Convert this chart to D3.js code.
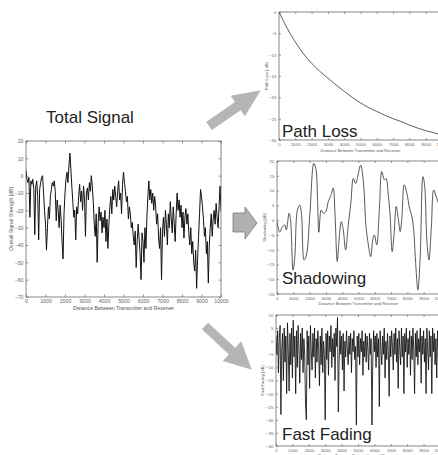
<!DOCTYPE html>
<html lang="en">
<head>
<meta charset="UTF-8">
<title>Total Signal Components</title>
<script src="https://d3js.org/d3.v7.min.js"></script>
<style>
  body { margin: 0; background: #fff; font-family: Arial, "Liberation Sans", sans-serif; }
  svg { display: block; }
  .axis line { stroke: #555; stroke-width: 0.6; }
  .axis path { display: none; }
  .axis text { fill: #666; }
  .frame { fill: none; stroke: #555; stroke-width: 0.7; }
  .big { font-size: 17px; fill: #222; }
  .arrow { fill: #b5b5b5; }
</style>
</head>
<body>
<div id="chart"></div>
<script>
// samples are every 50 m, 0..10000
const distStep = 50;

const totalSignal = [
  3, -2, -4, -1, -24, -3, -5, -2, -8, -34,
  -6, -3, -12, -37, -8, -4, -1, 0, -10, -20,
  -28, -43, -30, -18, -25, -12, -8, -4, -6, -3,
  -9, -26, -14, -20, -30, -17, -25, -38, -48, -22,
  -10, -2, 2, -4, 5, 13, 4, -6, -15, -24,
  -20, -37, -18, -22, -12, -5, -15, -9, -20, -6,
  -13, -35, -10, -7, -14, -4, -9, 0, -6, -15,
  -28, -35, -22, -50, -27, -18, -26, -21, -33, -24,
  -30, -20, -38, -25, -42, -28, -18, -12, -22, -8,
  -14, -6, -12, -18, -9, -3, -14, -10, -22, -5,
  2, -4, -9, -15, -12, -25, -18, -22, -30, -27,
  -35, -40, -32, -53, -38, -28, -36, -45, -60, -33,
  -38, -50, -30, -42, -24, -12, -3, -14, -8, -16,
  -10, -20, -12, -18, -28, -22, -36, -42, -30, -60,
  -32, -24, -35, -20, -28, -40, -22, -30, -15, -25,
  -33, -18, -27, -38, -22, -10, -20, -14, -24, -17,
  -30, -21, -36, -24, -19, -28, -22, -33, -40, -30,
  -45, -38, -50, -55, -43, -65, -48, -35, -22, -8,
  -12, -18, -25, -35, -30, -45, -38, -62, -40, -30,
  -22, -35, -25, -20, -28, -16, -24, -30, -18, -6,
  -20
];

const fastFading = [
  2, -5, 4, -12, 1, 6, -28, -3, 3, -15,
  5, -8, 2, -20, 7, -4, -19, 3, -9, 5,
  -14, 8, -6, 2, -20, 4, -10, 6, -3, -16,
  3, -7, 5, -12, 1, -5, -24, -30, 4, -9,
  2, -18, 6, -4, -11, 3, -6, 5, -14, 1,
  -8, 4, -3, -17, 2, -9, 5, -12, 0, -5,
  -30, 3, -7, 4, -13, 2, -4, 6, -10, 1,
  -6, 3, -15, 5, -2, 9, -27, -8, 4, -5,
  2, -11, 3, -19, 0, -6, 4, -3, -9, 2,
  -5, 3, -12, 1, -4, 4, -7, -2, -32, 2,
  -6, 3, -9, 1, -4, 4, -13, 0, -6, 3,
  -8, 2, -3, -11, 3, -5, 1, -32, -8, 4,
  -4, 2, -10, 3, -6, 1, -25, 4, -3, -9,
  2, -5, 5, -14, 0, -7, 3, -4, -21, 2,
  -6, 4, -2, -11, 3, -5, 5, -8, 1, -18,
  4, -3, -9, 5, -6, 2, -20, 3, -4, 5,
  -10, 1, -5, 4, -13, 2, -7, 5, -3, -20,
  3, -6, 4, -9, 1, -4, 5, -16, 2, -5,
  4, -8, 1, -20, 5, -3, -11, 4, -6, 2,
  -20, 5, -4, 3, -9, 1, -14, 4, -6, 2,
  -3
];

const shadowDist = [
  0, 164, 308, 472, 575, 739, 821, 986, 1088, 1253,
  1396, 1499, 1663, 1807, 2012, 2259, 2382, 2485, 2567, 2711,
  2834, 2998, 3142, 3306, 3450, 3552, 3696, 3799, 3943, 4066,
  4209, 4374, 4538, 4682, 4825, 4928, 5133, 5298, 5462, 5606,
  5750, 5873, 5975, 6119, 6283, 6427, 6591, 6694, 6817, 6940,
  7064, 7187, 7310, 7454, 7557, 7659, 7803, 7967, 8131, 8255,
  8378, 8500, 8645, 8789, 8953, 9055, 9199, 9322, 9466, 9610,
  9733, 9877, 10000
];
const shadowValues = [
  -0.5, -4.1, -2.5, -1.6, -3.3, 2.3, 0.6, -16.9, -12.9, 3.4,
  5.1, 2.3, -13.5, -11.8, 1.7, 19.2, 17.5, 7.4, -4.1, 3.4,
  2.3, 2.9, 6.2, 8.3, 10.8, 2.9, -14.0, -7.3, -0.5, -3.3,
  -10.1, -1.6, 6.2, 14.1, 12.4, 14.1, 18.6, 13.0, -2.2, -8.4,
  -12.4, -6.7, -5.0, -8.4, 4.0, 16.4, 13.6, 14.1, 9.1, 1.7,
  -10.7, -4.5, 4.6, 0.0, -3.9, 0.6, 11.9, 9.1, 4.0, 1.7,
  -2.8, -14.0, -23.6, -11.8, 14.7, 11.9, -7.3, -13.5, -2.8, 10.2,
  8.5, 6.2, 3.5
];

const pathLossDist = [
  0, 500, 1000, 1500, 2000, 2500, 3000, 3500, 4000, 4500, 5000,
  5500, 6000, 6500, 7000, 7500, 8000, 8500, 9000, 9500, 10000
];
const pathLossValues = [
  0, -3.8, -7.0, -9.8, -12.0, -13.9, -15.5, -17.1, -18.6, -20.0, -21.3,
  -22.4, -23.3, -24.2, -25.0, -25.7, -26.5, -27.2, -27.8, -28.3, -28.9
];

const xTicks = [0, 1000, 2000, 3000, 4000, 5000, 6000, 7000, 8000, 9000, 10000];
const totalTicks = [-70, -60, -50, -40, -30, -20, -10, 0, 10, 20];
const pathLossTicks = [-30, -25, -20, -15, -10, -5, 0];
const shadowTicks = [-25, -20, -15, -10, -5, 0, 5, 10, 15, 20];
const fadingTicks = [-40, -35, -30, -25, -20, -15, -10, -5, 0, 5, 10];
const xTitle = "Distance Between Transmitter and Receiver";

const W = 438, H = 455;
const svg = d3.select("#chart").append("svg")
  .attr("width", W).attr("height", H);

const defs = svg.append("defs");

function panel(cfg) {
  const x = d3.scaleLinear().domain([0, 10000]).range([cfg.x0, cfg.x1]);
  const y = d3.scaleLinear().domain([cfg.ticks[0], cfg.ticks[cfg.ticks.length - 1]])
    .range([cfg.y1, cfg.y0]);
  const g = svg.append("g");

  const clipId = "clip-" + cfg.name;
  defs.append("clipPath").attr("id", clipId)
    .append("rect")
    .attr("x", cfg.x0).attr("y", cfg.y0)
    .attr("width", cfg.x1 - cfg.x0).attr("height", cfg.y1 - cfg.y0);

  const line = d3.line().x(d => x(d[0])).y(d => y(d[1]));
  if (cfg.curve) line.curve(cfg.curve);

  g.append("path")
    .datum(cfg.data)
    .attr("clip-path", `url(#${clipId})`)
    .attr("fill", "none")
    .attr("stroke", cfg.color)
    .attr("stroke-width", cfg.width)
    .attr("stroke-linejoin", "round")
    .attr("d", line);

  // MATLAB-like box with inward ticks on all sides
  const t = cfg.tickLen;
  g.append("g").attr("class", "axis")
    .attr("transform", `translate(0,${cfg.y1})`)
    .call(d3.axisBottom(x).tickValues(xTicks).tickFormat(d3.format("d"))
      .tickSizeInner(-t).tickSizeOuter(0).tickPadding(cfg.pad))
    .selectAll("text").style("font-size", cfg.font + "px");
  g.append("g").attr("class", "axis")
    .attr("transform", `translate(0,${cfg.y0})`)
    .call(d3.axisTop(x).tickValues(xTicks).tickFormat("")
      .tickSizeInner(-t).tickSizeOuter(0));
  g.append("g").attr("class", "axis")
    .attr("transform", `translate(${cfg.x0},0)`)
    .call(d3.axisLeft(y).tickValues(cfg.ticks).tickFormat(d3.format("d"))
      .tickSizeInner(-t).tickSizeOuter(0).tickPadding(cfg.pad))
    .selectAll("text").style("font-size", cfg.font + "px");
  g.append("g").attr("class", "axis")
    .attr("transform", `translate(${cfg.x1},0)`)
    .call(d3.axisRight(y).tickValues(cfg.ticks).tickFormat("")
      .tickSizeInner(-t).tickSizeOuter(0));

  g.append("rect").attr("class", "frame")
    .attr("x", cfg.x0).attr("y", cfg.y0)
    .attr("width", cfg.x1 - cfg.x0).attr("height", cfg.y1 - cfg.y0);

  g.append("text")
    .attr("x", (cfg.x0 + cfg.x1) / 2)
    .attr("y", cfg.y1 + cfg.titleGap)
    .attr("text-anchor", "middle")
    .style("font-size", cfg.titleFont + "px")
    .style("fill", "#555")
    .text(xTitle);

  g.append("text")
    .attr("transform", `translate(${cfg.labelX},${(cfg.y0 + cfg.y1) / 2}) rotate(-90)`)
    .attr("text-anchor", "middle")
    .style("font-size", cfg.titleFont + "px")
    .style("fill", "#555")
    .text(cfg.yLabel);

  if (cfg.big) {
    g.append("text").attr("class", "big")
      .attr("x", cfg.big[1]).attr("y", cfg.big[2])
      .text(cfg.big[0]);
  }
}

const stepped = arr => arr.map((v, i) => [i * distStep, v]);

panel({
  name: "total", x0: 26, x1: 221, y0: 141, y1: 297,
  ticks: totalTicks, data: stepped(totalSignal),
  color: "#111", width: 1.0, tickLen: 2.5, pad: 2.5,
  font: 5.2, titleFont: 5.2, titleGap: 12.5,
  yLabel: "Overall Signal Strength [dB]", labelX: 13
});

panel({
  name: "pathloss", x0: 279, x1: 442, y0: 12, y1: 140,
  ticks: pathLossTicks, data: pathLossDist.map((d, i) => [d, pathLossValues[i]]),
  curve: d3.curveMonotoneX,
  color: "#333", width: 0.8, tickLen: 2, pad: 2.5,
  font: 4.4, titleFont: 4.1, titleGap: 12,
  yLabel: "Path Loss [-dB]", labelX: 268,
  big: ["Path Loss", 282, 137]
});

panel({
  name: "shadow", x0: 277, x1: 440, y0: 161, y1: 294,
  ticks: shadowTicks, data: shadowDist.map((d, i) => [d, shadowValues[i]]),
  curve: d3.curveCatmullRom,
  color: "#444", width: 0.9, tickLen: 2, pad: 2.5,
  font: 4.4, titleFont: 4.1, titleGap: 11,
  yLabel: "Shadowing [dB]", labelX: 266,
  big: ["Shadowing", 282, 284]
});

panel({
  name: "fading", x0: 276, x1: 440, y0: 315, y1: 446,
  ticks: fadingTicks, data: stepped(fastFading),
  color: "#111", width: 0.85, tickLen: 2, pad: 2.5,
  font: 4.4, titleFont: 4.1, titleGap: 11,
  yLabel: "Fast Fading [dB]", labelX: 264,
  big: ["Fast Fading", 282, 440]
});

svg.append("text").attr("class", "big")
  .attr("x", 46).attr("y", 123)
  .text("Total Signal");

// arrows
function arrow(tx, ty, angle, len, shaftHalf, headHalf, headLen) {
  const b = len - headLen;
  const pts = [[0, -shaftHalf], [b, -shaftHalf], [b, -headHalf], [len, 0],
               [b, headHalf], [b, shaftHalf], [0, shaftHalf]];
  svg.append("polygon").attr("class", "arrow")
    .attr("points", pts.map(p => p.join(",")).join(" "))
    .attr("transform", `translate(${tx},${ty}) rotate(${angle})`);
}
arrow(209, 126, -34.7, 63, 5, 12.5, 28);
arrow(205, 326, 43, 64, 4.6, 13.5, 27);

svg.append("polygon")
  .attr("points", "233,213 245,213 245,207 257,223 245,239 245,232 233,232")
  .attr("fill", "#b0b0b0")
  .attr("stroke", "#7a7a7a")
  .attr("stroke-width", 0.8);
</script>
</body>
</html>
